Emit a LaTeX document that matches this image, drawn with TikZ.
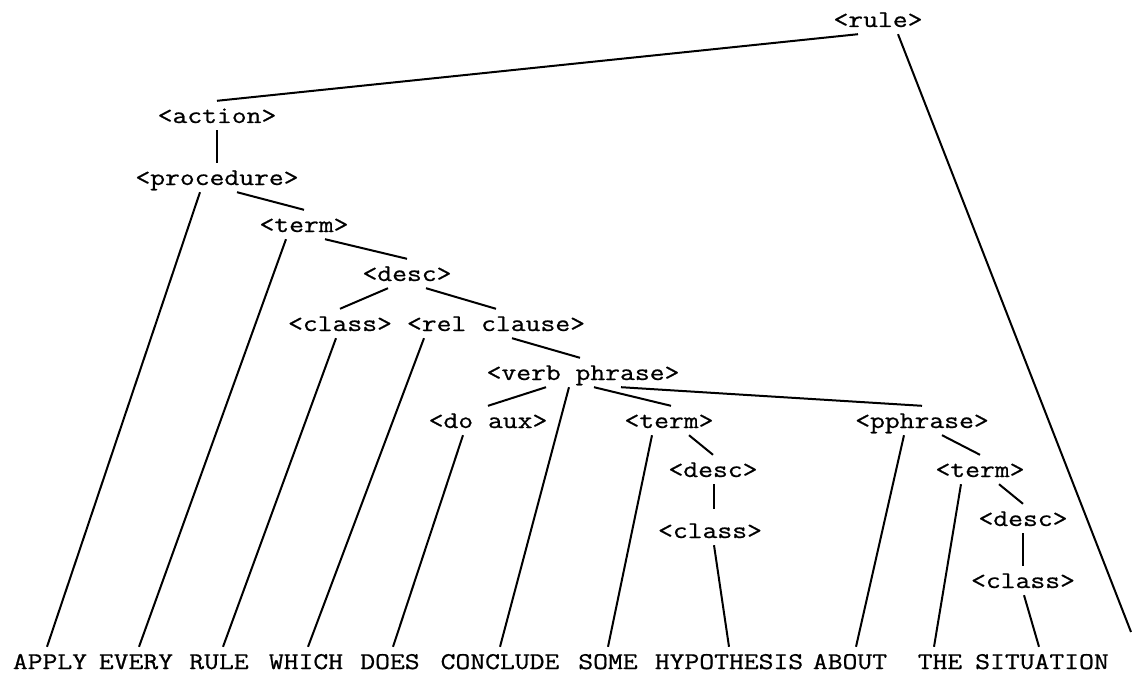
\documentclass[tikz,border=0pt]{standalone}
\usepackage{fontspec}
\newfontfamily\typewr[FakeStretch=1.2,FakeBold=0.8]{Latin Modern Mono}

\begin{document}
\begin{tikzpicture}[x=1pt,y=-1pt,
  cat/.style={anchor=base,inner sep=0pt,text height=22pt,text depth=7pt,font={\typewr\fontsize{24}{28}\selectfont}},
  branch/.style={draw,line width=2pt}]
\useasboundingbox (0,0) rectangle (1132,674);

\node[cat] (rule) at (878,27) {<rule>};
\node[cat] (act) at (217,123) {<action>};
\node[cat] (proc) at (217,185) {<procedure>};
\node[cat] (t1) at (304,232) {<term>};
\node[cat] (d1) at (407,281) {<desc>};
\node[cat] (c1) at (340,331) {<class>};
\node[cat] (rc) at (496,331) {<rel clause>};
\node[cat] (vp) at (583,380) {<verb phrase>};
\node[cat] (da) at (488,428) {<do aux>};
\node[cat] (t2) at (669,428) {<term>};
\node[cat] (pp) at (922,428) {<pphrase>};
\node[cat] (d2) at (713,477) {<desc>};
\node[cat] (c2) at (710,538) {<class>};
\node[cat] (t3) at (980,477) {<term>};
\node[cat] (d3) at (1023,526) {<desc>};
\node[cat] (c3) at (1023,588) {<class>};
\coordinate (rim) at (1131,632);

\node[cat] (apply) at (50,669) {APPLY};
\node[cat] (every) at (136,669) {EVERY};
\node[cat] (rulew) at (219,669) {RULE};
\node[cat] (which) at (306,669) {WHICH};
\node[cat] (does) at (390,669) {DOES};
\node[cat] (concl) at (500,669) {CONCLUDE};
\node[cat] (some) at (608,669) {SOME};
\node[cat] (hyp) at (729,669) {HYPOTHESIS};
\node[cat] (about) at (850,669) {ABOUT};
\node[cat] (the) at (940,669) {THE};
\node[cat] (sit) at (1042,669) {SITUATION};

\path[branch] ([xshift=-20pt]rule.south) -- (act.north);
\path[branch] ([xshift=20pt]rule.south) -- (rim);
\path[branch] (act.south) -- (proc.north);
\path[branch] ([xshift=-17pt]proc.south) -- ([xshift=-3pt]apply.north);
\path[branch] ([xshift=20pt]proc.south) -- (t1.north);
\path[branch] ([xshift=-18pt]t1.south) -- ([xshift=3pt]every.north);
\path[branch] ([xshift=21pt]t1.south) -- (d1.north);
\path[branch] ([xshift=-19pt]d1.south) -- (c1.north);
\path[branch] ([xshift=19pt]d1.south) -- (rc.north);
\path[branch] ([xshift=-4pt]c1.south) -- ([xshift=4pt]rulew.north);
\path[branch] ([xshift=-72pt]rc.south) -- ([xshift=2pt]which.north);
\path[branch] ([xshift=16pt]rc.south) -- ([xshift=-3pt]vp.north);
\path[branch] ([xshift=-37pt]vp.south) -- (da.north);
\path[branch] ([xshift=-14pt]vp.south) -- (concl.north);
\path[branch] ([xshift=11pt]vp.south) -- ([xshift=2pt]t2.north);
\path[branch] ([xshift=38pt]vp.south) -- (pp.north);
\path[branch] ([xshift=-25pt]da.south) -- ([xshift=3pt]does.north);
\path[branch] ([xshift=-17pt]t2.south) -- (some.north);
\path[branch] ([xshift=20pt]t2.south) -- (d2.north);
\path[branch] ([xshift=1pt]d2.south) -- ([xshift=4pt,yshift=7pt]c2.north);
\path[branch] ([xshift=4pt]c2.south) -- (hyp.north);
\path[branch] ([xshift=-18pt]pp.south) -- ([xshift=6pt]about.north);
\path[branch] ([xshift=20pt]pp.south) -- (t3.north);
\path[branch] ([xshift=-19pt]t3.south) -- ([xshift=-6pt]the.north);
\path[branch] ([xshift=19pt]t3.south) -- (d3.north);
\path[branch] (d3.south) -- (c3.north);
\path[branch] ([xshift=1pt]c3.south) -- ([xshift=-3pt]sit.north);
\end{tikzpicture}
\end{document}
